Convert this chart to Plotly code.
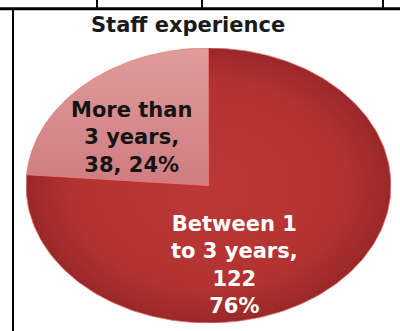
import numpy as np
import plotly.graph_objects as go

# Staff experience breakdown
categories = ["More than<br>3 years,", "Between 1<br>to 3 years,"]
counts = [38, 122]
label_sep = [", ", "<br>"]          # separator between count and percent
slice_colors = [
    [[0, "#CF7C80"], [1, "#E09C9C"]],
    [[0, "#BC3838"], [0.75, "#B23232"], [1, "#9A2828"]],
]
gradient_types = ["vertical", "radial"]
text_colors = ["#141414", "#FFFFFF"]
label_pos = [(0.29, 0.675), (0.57, 0.21)]

total = sum(counts)
fractions = [c / total for c in counts]

fig = go.Figure()

# Wedges run counter-clockwise starting at 12 o'clock
start = np.pi / 2
for frac, cs, gt in zip(fractions, slice_colors, gradient_types):
    stop = start + frac * 2 * np.pi
    theta = np.linspace(start, stop, 200)
    xs = np.concatenate([[0], np.cos(theta), [0]])
    ys = np.concatenate([[0], np.sin(theta), [0]])
    fig.add_trace(go.Scatter(
        x=xs, y=ys, mode="lines", fill="toself",
        fillgradient=dict(type=gt, colorscale=cs),
        line=dict(color="rgba(235,120,120,0.8)", width=1),
        hoverinfo="skip", showlegend=False,
    ))
    start = stop

# Slice labels: name, count and rounded percentage
for cat, cnt, frac, sep, col, (px, py) in zip(categories, counts, fractions,
                                             label_sep, text_colors, label_pos):
    fig.add_annotation(
        x=px, y=py, xref="paper", yref="paper",
        text=f"<b>{cat}<br>{cnt}{sep}{round(frac * 100)}%</b>",
        showarrow=False, xanchor="center", yanchor="middle",
        font=dict(family="DejaVu Sans", size=21, color=col),
    )

# Title
fig.add_annotation(
    x=0.4425, y=1.085, xref="paper", yref="paper",
    text="<b>Staff experience</b>", showarrow=False,
    xanchor="center", yanchor="middle",
    font=dict(family="DejaVu Sans", size=21, color="#1A1A1A"),
)

# Surrounding table rules
W, H = 400, 331
L, R, T, B = 26, 9, 48, 8
pw, ph = W - L - R, H - T - B


def px2x(p):
    return (p - L) / pw


def py2y(p):
    return (H - B - p) / ph


rules = [
    (0, 8.7, 400, 8.7, 3),
    (97, 0, 97, 8.7, 2),
    (202, 0, 202, 8.7, 2),
    (383, 0, 383, 8.7, 2),
    (13, 9, 13, 331, 2),
]
for x0, y0, x1, y1, w in rules:
    fig.add_shape(type="line", xref="paper", yref="paper",
                  x0=px2x(x0), y0=py2y(y0), x1=px2x(x1), y1=py2y(y1),
                  line=dict(color="#000000", width=w))

fig.update_xaxes(range=[-1, 1], visible=False, fixedrange=True)
fig.update_yaxes(range=[-1, 1], visible=False, fixedrange=True)
fig.update_layout(
    width=W, height=H,
    margin=dict(l=L, r=R, t=T, b=B),
    paper_bgcolor="white", plot_bgcolor="white",
    showlegend=False,
)

fig.write_html("out.html")
